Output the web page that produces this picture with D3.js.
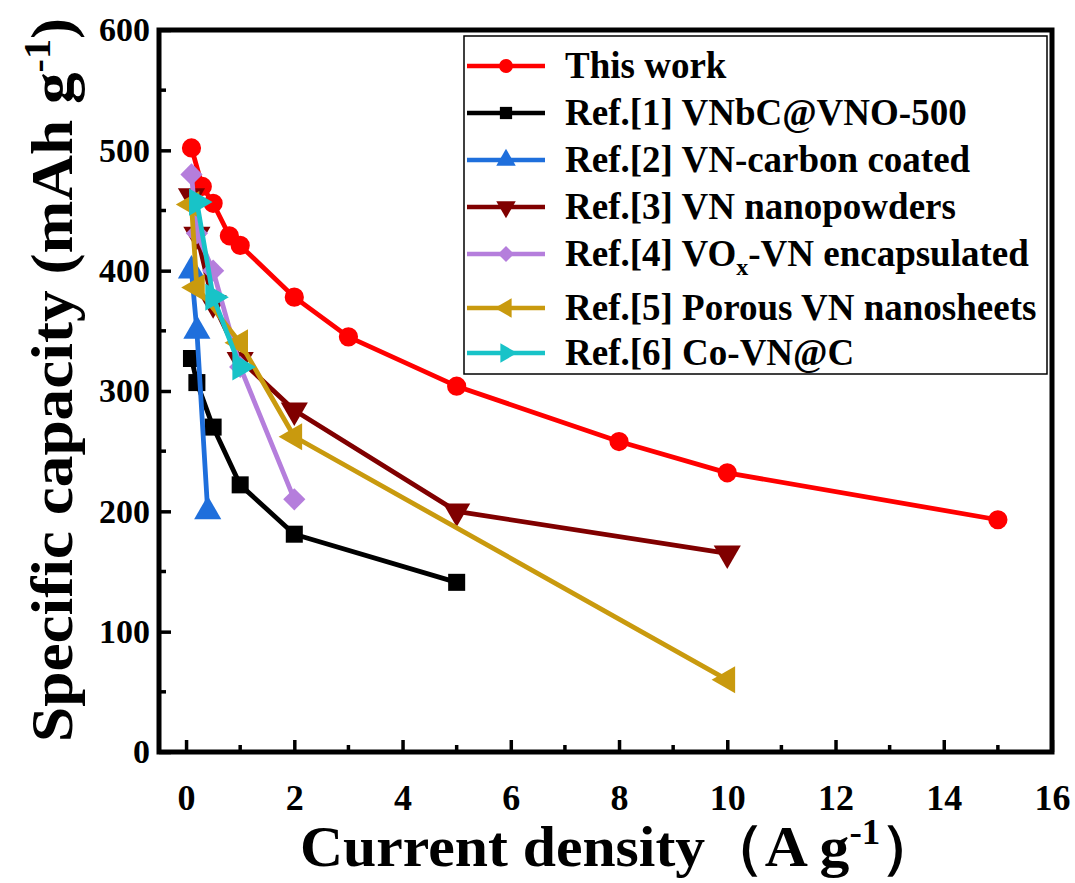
<!DOCTYPE html>
<html>
<head>
<meta charset="utf-8">
<script src="https://cdn.jsdelivr.net/npm/d3@7"></script>
<style>
  body { margin: 0; background: #fff; }
  svg { display: block; }
  text { font-family: "Times New Roman", "Liberation Serif", serif; font-weight: bold; fill: #000; }
</style>
</head>
<body>
<script>
// series names, colours and marker shapes
var names = ["This work", "Ref.[1] VNbC@VNO-500", "Ref.[2] VN-carbon coated",
  "Ref.[3] VN nanopowders", "Ref.[4] VOx-VN encapsulated",
  "Ref.[5] Porous VN nanosheets", "Ref.[6] Co-VN@C"];
var colors = ["#ff0000", "#000000", "#1f6fdc", "#800000", "#b57edc", "#c99a0e", "#18c3c8"];
var shapes = ["circle", "square", "up", "down", "diamond", "left", "right"];

// values (A g-1, mAh g-1)
var xThis = [0.1, 0.3, 0.5, 0.8, 1, 2, 3, 5, 8, 10, 15];
var yThis = [502, 470, 456, 429, 421, 378, 345, 304, 258, 232, 193];
var xRef1 = [0.1, 0.2, 0.5, 1, 2, 5];
var yRef1 = [327, 307, 270, 222, 181, 141];
var xRef2 = [0.1, 0.2, 0.4];
var yRef2 = [400, 350, 200];
var xRef3 = [0.1, 0.2, 0.5, 1, 2, 5, 10];
var yRef3 = [462, 430, 373, 326, 284, 200, 165];
var xRef4 = [0.1, 0.2, 0.5, 1, 2];
var yRef4 = [480, 431, 400, 320, 210];
var xRef5 = [0.1, 0.2, 1, 2, 10];
var yRef5 = [455, 386, 340, 262, 60];
var xRef6 = [0.2, 0.5, 1];
var yRef6 = [457, 378, 320];

var xTicks = [0, 2, 4, 6, 8, 10, 12, 14, 16];
var yTicks = [0, 100, 200, 300, 400, 500, 600];

var series = [[xThis, yThis], [xRef1, yRef1], [xRef2, yRef2], [xRef3, yRef3],
  [xRef4, yRef4], [xRef5, yRef5], [xRef6, yRef6]].map(function(s, i) {
  return {
    name: names[i], color: colors[i], shape: shapes[i],
    values: s[0].map(function(x, j) { return {x: x, y: s[1][j]}; })
  };
});

var width = 1075, height = 883;
var plotLeft = 159, plotRight = 1052, plotTop = 30, plotBottom = 752;

var x = d3.scaleLinear().domain([-0.5, 16]).range([plotLeft, plotRight]);
var y = d3.scaleLinear().domain([0, 600]).range([plotBottom, plotTop]);

var svg = d3.select("body").append("svg")
  .attr("width", width)
  .attr("height", height);

function marker(shape, s) {
  if (shape == "circle") return d3.symbol(d3.symbolCircle, s)();
  if (shape == "square") return d3.symbol(d3.symbolSquare, s)();
  if (shape == "diamond") return d3.symbol(d3.symbolSquare, s * 0.85)();
  return d3.symbol(d3.symbolTriangle, s * 1.1)();
}
function rot(shape) {
  return {down: 180, left: -90, right: 90, diamond: 45}[shape] || 0;
}

// curves
var line = d3.line()
  .x(function(d) { return x(d.x); })
  .y(function(d) { return y(d.y); });

series.forEach(function(s) {
  var g = svg.append("g");
  g.append("path")
    .attr("d", line(s.values))
    .attr("fill", "none")
    .attr("stroke", s.color)
    .attr("stroke-width", 4.8)
    .attr("stroke-linejoin", "round");
  g.selectAll("path.pt")
    .data(s.values)
    .enter()
    .append("path")
    .attr("class", "pt")
    .attr("d", marker(s.shape, 290))
    .attr("fill", s.color)
    .attr("transform", function(d) { return "translate(" + x(d.x) + "," + y(d.y) + ")rotate(" + rot(s.shape) + ")"; });
});

// axes, ticks inward
var xAxis = d3.axisBottom(x)
  .tickValues(xTicks)
  .tickSize(-12)
  .tickPadding(32)
  .tickFormat(d3.format("d"));
var gx = svg.append("g").attr("transform", "translate(0," + plotBottom + ")").call(xAxis);
gx.attr("font-size", null).attr("font-family", null);
gx.selectAll("text").style("font-size", "36px");
gx.append("g").selectAll("line")
  .data(d3.range(1, 16, 2))
  .enter()
  .append("line")
  .attr("x1", function(d) { return x(d); })
  .attr("x2", function(d) { return x(d); })
  .attr("y2", -7);

var yAxis = d3.axisLeft(y)
  .tickValues(yTicks)
  .tickSize(-12)
  .tickPadding(9);
var gy = svg.append("g").attr("transform", "translate(" + plotLeft + ",0)").call(yAxis);
gy.attr("font-size", null).attr("font-family", null);
gy.selectAll("text").style("font-size", "34px");
gy.append("g").selectAll("line")
  .data(d3.range(50, 600, 100))
  .enter()
  .append("line")
  .attr("y1", function(d) { return y(d); })
  .attr("y2", function(d) { return y(d); })
  .attr("x2", 7);

svg.selectAll(".domain").remove();
gx.selectAll("line").attr("stroke", "#000").attr("stroke-width", 3.5);
gy.selectAll("line").attr("stroke", "#000").attr("stroke-width", 3.5);

// frame
svg.append("rect")
  .attr("x", plotLeft)
  .attr("y", plotTop)
  .attr("width", plotRight - plotLeft)
  .attr("height", plotBottom - plotTop)
  .attr("fill", "none")
  .attr("stroke", "#000")
  .attr("stroke-width", 5);

// axis titles
var xt = svg.append("text")
  .attr("x", 300)
  .attr("y", 866)
  .attr("font-size", 58)
  .attr("textLength", 640)
  .attr("lengthAdjust", "spacingAndGlyphs");
xt.append("tspan").text("Current density\uff08A g");
xt.append("tspan").attr("dy", -22).attr("font-size", 36).text("-1");
xt.append("tspan").attr("dy", 22).text("\uff09");

var yt = svg.append("text")
  .attr("transform", "translate(72,742)rotate(-90)")
  .attr("font-size", 60)
  .attr("textLength", 724)
  .attr("lengthAdjust", "spacingAndGlyphs");
yt.append("tspan").text("Specific capacity (mAh g");
yt.append("tspan").attr("dy", -22).attr("font-size", 38).text("-1");
yt.append("tspan").attr("dy", 22).text(")");

// legend
var legendY = [66, 113, 160, 207, 254, 308, 353];
var legend = svg.append("g");
legend.append("rect")
  .attr("x", 464)
  .attr("y", 36)
  .attr("width", 583)
  .attr("height", 338)
  .attr("fill", "#fff")
  .attr("stroke", "#000")
  .attr("stroke-width", 1.5);

var item = legend.selectAll("g.item")
  .data(series)
  .enter()
  .append("g")
  .attr("class", "item")
  .attr("transform", function(d, i) { return "translate(0," + legendY[i] + ")"; });
item.append("line")
  .attr("x1", 467)
  .attr("x2", 545)
  .attr("stroke", function(d) { return d.color; })
  .attr("stroke-width", 4.5);
item.append("path")
  .attr("d", function(d) { return marker(d.shape, 150); })
  .attr("fill", function(d) { return d.color; })
  .attr("transform", function(d) { return "translate(506,0)rotate(" + rot(d.shape) + ")"; });
item.append("text")
  .attr("x", 565)
  .attr("y", 12)
  .attr("font-size", 37)
  .each(function(d) {
    var t = d3.select(this);
    if (d.name.indexOf("VOx") >= 0) {
      t.append("tspan").text("Ref.[4] VO");
      t.append("tspan").attr("dy", 9).attr("font-size", 24).text("x");
      t.append("tspan").attr("dy", -9).text("-VN encapsulated");
    } else {
      t.text(d.name);
    }
  });
</script>
</body>
</html>
